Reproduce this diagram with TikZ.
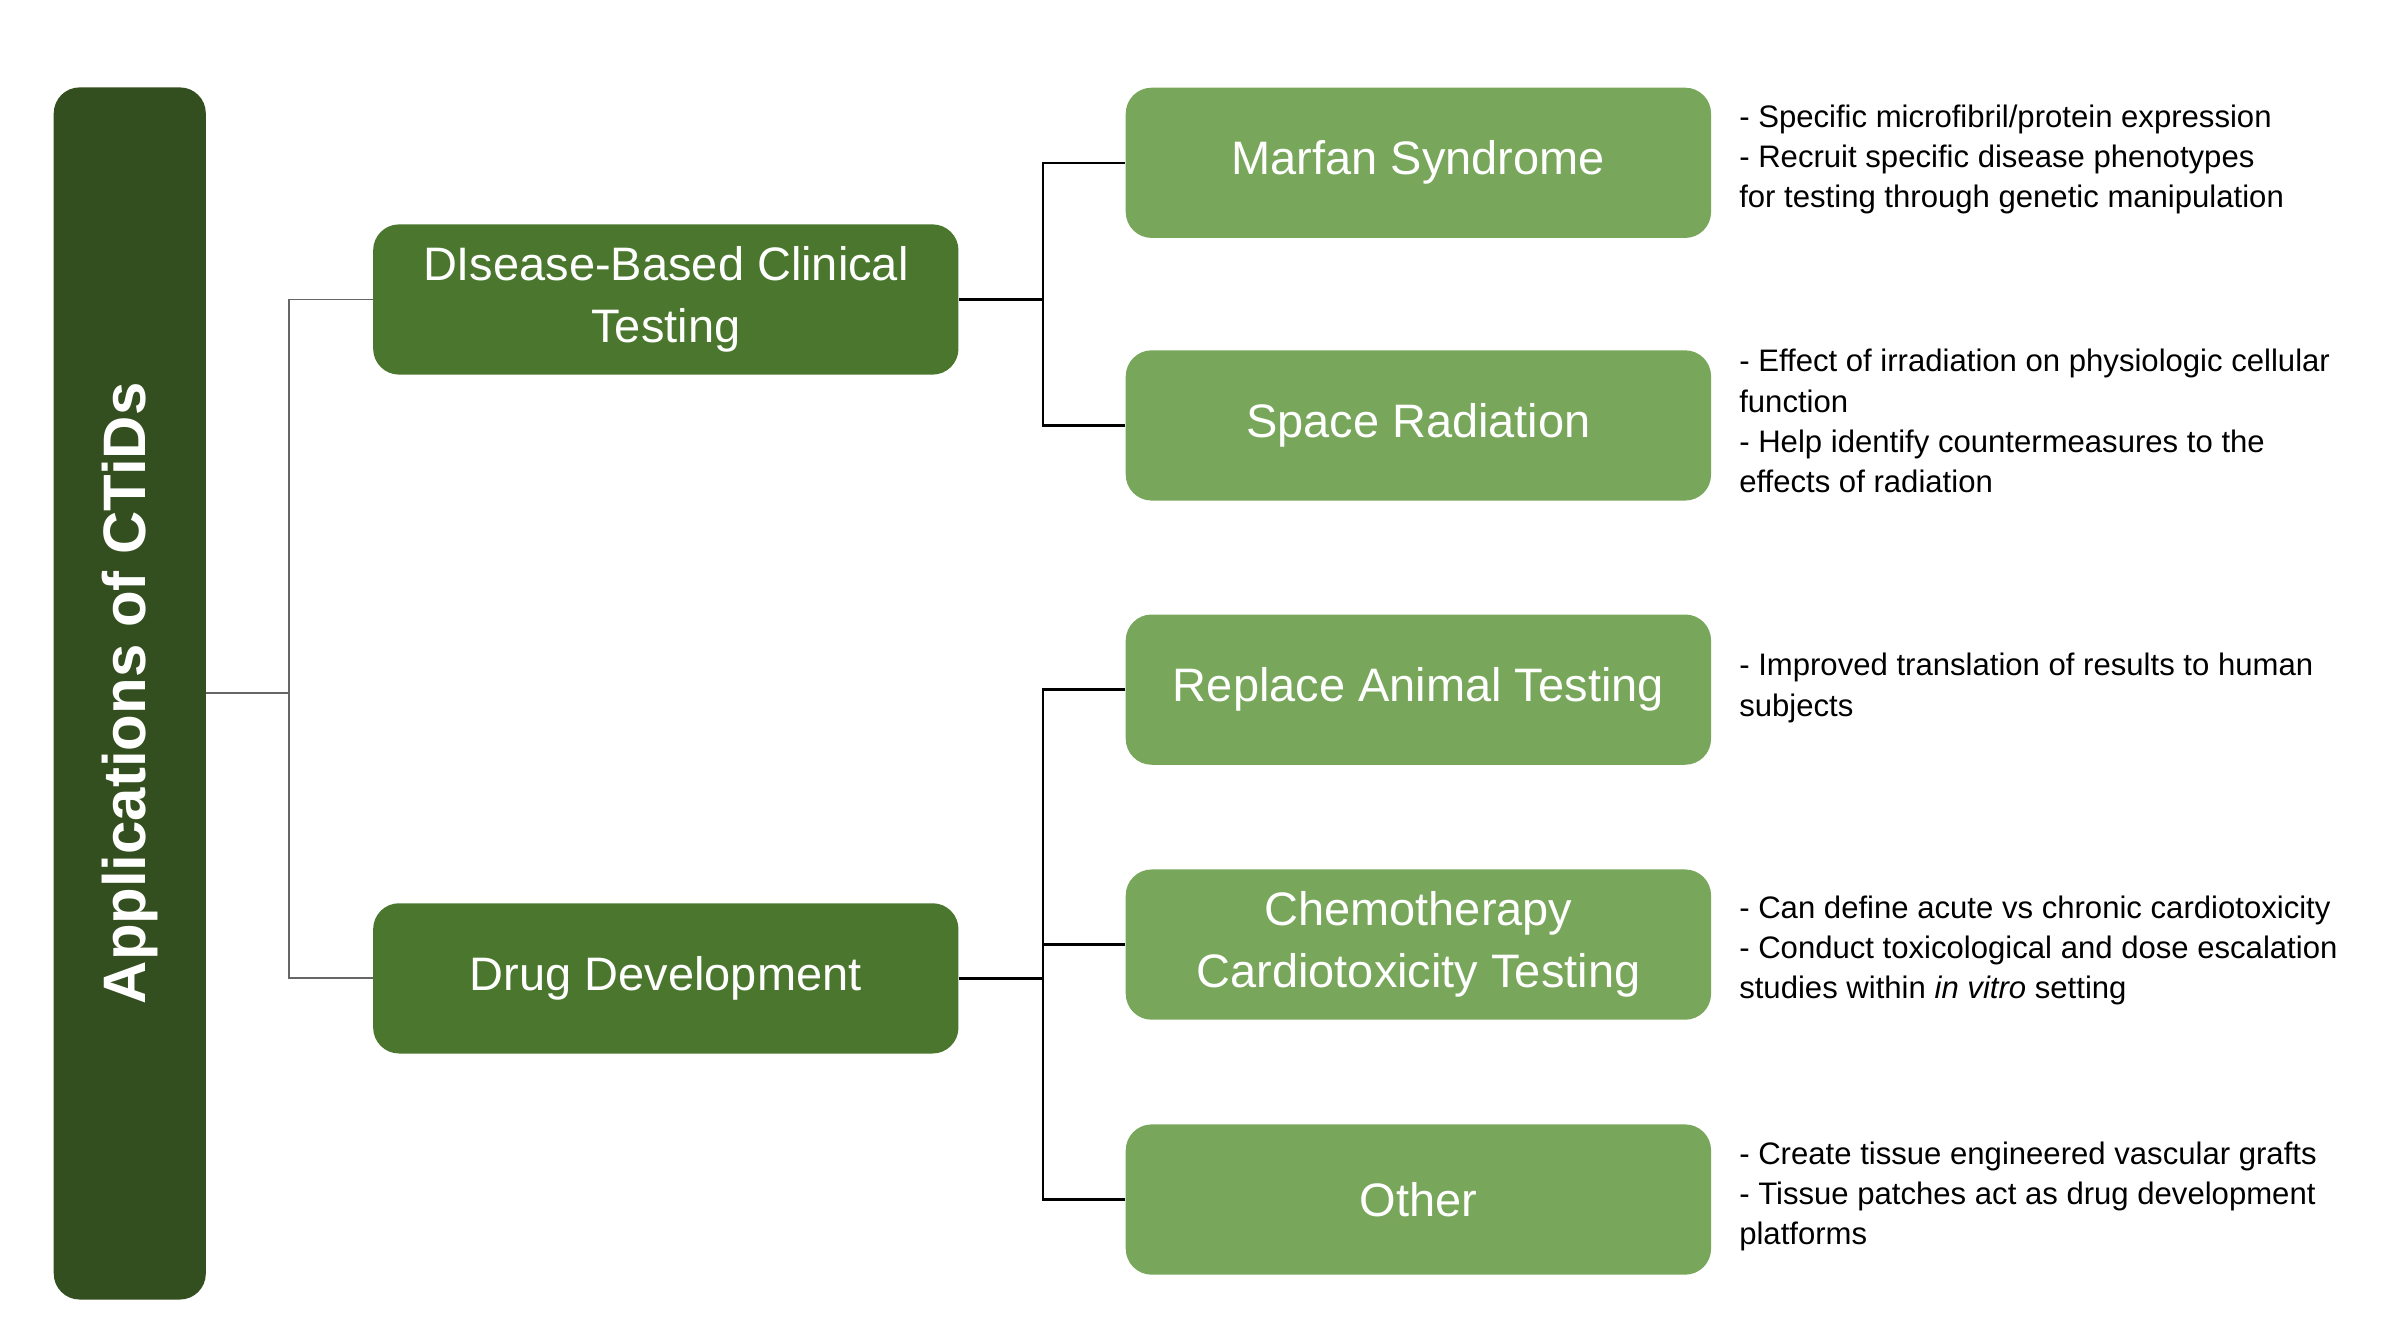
\documentclass[tikz,border=0pt]{standalone}
\usepackage{fontspec}
\setmainfont{Liberation Sans}
\usetikzlibrary{positioning}
\definecolor{bardark}{HTML}{334F1F}
\definecolor{midgreen}{HTML}{4A772D}
\definecolor{litegreen}{HTML}{78A65A}
\begin{document}
\begin{tikzpicture}
[x=0.016667cm,y=-0.016667cm
,box/.style={rounded corners=8pt,minimum width=6.35cm,minimum height=1.63cm,align=center,text=white,font=\fontsize{14.5}{19}\selectfont,inner sep=2pt}
,midbox/.style={box,fill=midgreen}
,subbox/.style={box,fill=litegreen}
,note/.style={anchor=north west,align=left,inner sep=0pt,font=\fontsize{9.6}{12.4}\selectfont}
,link/.style={draw=gray!80!black,line width=0.6pt}
,sublink/.style={draw=black,line width=0.8pt}]
\useasboundingbox (0,0) rectangle (1560,875);
\node[fill=bardark,rounded corners=8pt,minimum width=1.65cm,minimum height=13.15cm,inner sep=0pt] (bar) at (84.5,451.5) {};
\node[rotate=90,text=white,font=\fontsize{18.5}{22}\selectfont\bfseries] at (bar) {Applications of CTiDs};
\node[midbox] (dis) at (433.5,195) {DIsease-Based Clinical\\Testing};
\node[midbox] (drug) at (433.5,637) {Drug Development};
\node[subbox] (marfan) at (923.5,106) {Marfan Syndrome};
\node[subbox] (space) at (923.5,277) {Space Radiation};
\node[subbox] (animal) at (923.5,449) {Replace Animal Testing};
\node[subbox] (chemo) at (923.5,615) {Chemotherapy\\Cardiotoxicity Testing};
\node[subbox] (other) at (923.5,781) {Other};
% tree connectors
\coordinate (j0) at (188,451);
\coordinate (j1) at (679,195);
\coordinate (j2) at (679,637);
\draw[link] (bar.east |- j0) -- (j0);
\draw[link] (j0) |- (dis.west);
\draw[link] (j0) |- (drug.west);
\draw[sublink] (dis.east) -- (j1);
\draw[sublink] (j1) |- (marfan.west);
\draw[sublink] (j1) |- (space.west);
\draw[sublink] (drug.east) -- (j2);
\draw[sublink] (j2) |- (animal.west);
\draw[sublink] (j2) |- (chemo.west);
\draw[sublink] (j2) |- (other.west);
% notes
\node[note] (nmarfan) at (1132,68) {- Specific microfibril/protein expression\\- Recruit specific disease phenotypes\\for testing through genetic manipulation};
\node[note] (nspace) at (1132,227) {- Effect of irradiation on physiologic cellular\\function\\- Help identify countermeasures to the\\effects of radiation};
\node[note] (nanimal) at (1132,425) {- Improved translation of results to human\\subjects};
\node[note] (nchemo) at (1132,583) {- Can define acute vs chronic cardiotoxicity\\- Conduct toxicological and dose escalation\\studies within \textit{in vitro} setting};
\node[note] (nother) at (1132,743) {- Create tissue engineered vascular grafts\\- Tissue patches act as drug development\\platforms};
\end{tikzpicture}
\end{document}
